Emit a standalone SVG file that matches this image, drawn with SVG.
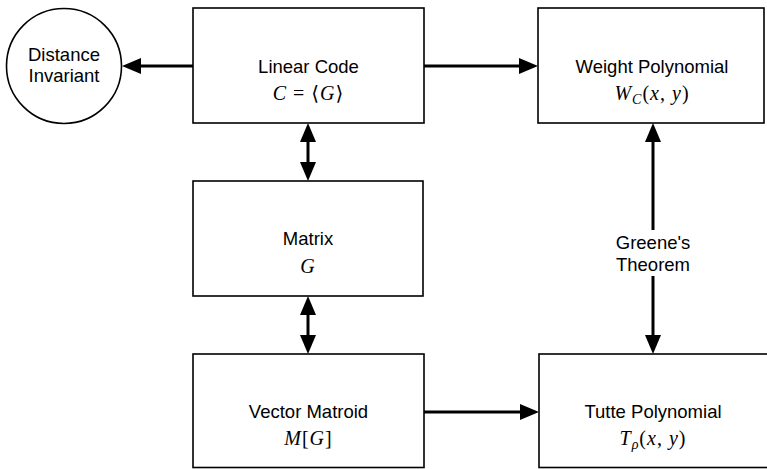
<svg xmlns="http://www.w3.org/2000/svg" width="767" height="469" viewBox="0 0 767 469">
<style>
.box{fill:#fff;stroke:#000;stroke-width:1.6}
.t{font-family:"Liberation Sans",Arial,sans-serif;font-size:18.5px;fill:#000;text-anchor:middle}
.m{font-family:"Liberation Serif","DejaVu Serif",serif;font-size:20px;fill:#000;text-anchor:middle;letter-spacing:1px}
.i{font-style:italic}
.e{stroke:#000;stroke-width:3;fill:none}
</style>
<defs>
<marker id="ah" markerUnits="userSpaceOnUse" markerWidth="19" markerHeight="16" refX="8" refY="8" orient="auto-start-reverse" viewBox="0 0 19 16">
<path d="M0,0 L19,8 L0,16 z" fill="#000"/>
</marker>
</defs>
<rect width="767" height="469" fill="#fff"/>
<g id="connectors">
<line class="e" x1="193" y1="66" x2="133" y2="66" marker-end="url(#ah)"/>
<line class="e" x1="424" y1="66" x2="527" y2="66" marker-end="url(#ah)"/>
<line class="e" x1="308" y1="134" x2="308" y2="170" marker-start="url(#ah)" marker-end="url(#ah)"/>
<line class="e" x1="308" y1="307" x2="308" y2="343" marker-start="url(#ah)" marker-end="url(#ah)"/>
<line class="e" x1="653" y1="230" x2="653" y2="134" marker-end="url(#ah)"/>
<line class="e" x1="653" y1="276" x2="653" y2="343" marker-end="url(#ah)"/>
<line class="e" x1="424" y1="412" x2="528" y2="412" marker-end="url(#ah)"/>
<text class="t" x="653" y="249">Greene's</text>
<text class="t" x="653" y="271">Theorem</text>
</g>
<g id="distance-invariant">
<circle cx="64" cy="66" r="57.5" fill="#fff" stroke="#000" stroke-width="1.6"/>
<text class="t" x="64" y="61">Distance</text>
<text class="t" x="64" y="82">Invariant</text>
</g>
<g id="linear-code">
<rect class="box" x="193" y="8" width="231" height="115"/>
<text class="t" x="308.5" y="73">Linear Code</text>
<text class="m" x="308.5" y="100"><tspan class="i">C</tspan> = ⟨<tspan class="i">G</tspan>⟩</text>
</g>
<g id="weight-polynomial">
<rect class="box" x="538" y="8" width="226" height="115"/>
<text class="t" x="652" y="73">Weight Polynomial</text>
<text class="m" x="652" y="100"><tspan class="i">W</tspan><tspan class="i" font-size="14" dy="4">C</tspan><tspan dy="-4">(</tspan><tspan class="i">x</tspan>, <tspan class="i">y</tspan>)</text>
</g>
<g id="matrix">
<rect class="box" x="193" y="181" width="230" height="115"/>
<text class="t" x="308" y="245">Matrix</text>
<text class="m i" x="308" y="273">G</text>
</g>
<g id="vector-matroid">
<rect class="box" x="193" y="354" width="231" height="113.5"/>
<text class="t" x="308.5" y="418">Vector Matroid</text>
<text class="m" x="308.5" y="445"><tspan class="i">M</tspan>[<tspan class="i">G</tspan>]</text>
</g>
<g id="tutte-polynomial">
<rect class="box" x="539" y="354" width="235" height="113.5"/>
<text class="t" x="653" y="418">Tutte Polynomial</text>
<text class="m" x="653" y="445"><tspan class="i">T</tspan><tspan class="i" font-size="14" dy="4">ρ</tspan><tspan dy="-4">(</tspan><tspan class="i">x</tspan>, <tspan class="i">y</tspan>)</text>
</g>
</svg>
